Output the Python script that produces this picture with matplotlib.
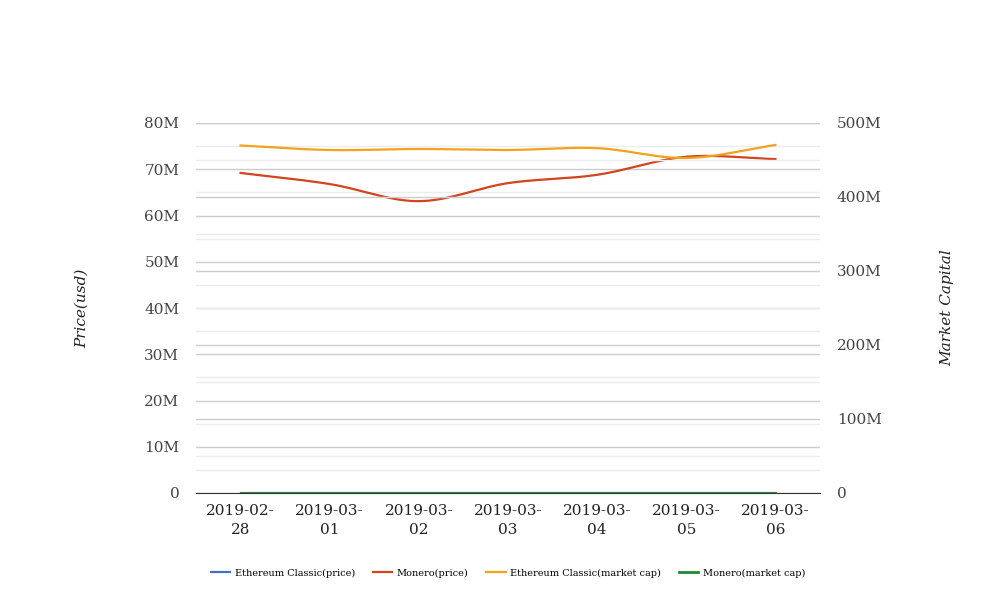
import numpy as np
from matplotlib import pyplot as plt
from matplotlib.ticker import FuncFormatter, MultipleLocator

dates = ['2019-02-\n28', '2019-03-\n01', '2019-03-\n02', '2019-03-\n03',
         '2019-03-\n04', '2019-03-\n05', '2019-03-\n06']
etc_price = [0.1e6, 0.1e6, 0.1e6, 0.1e6, 0.1e6, 0.1e6, 0.1e6]
monero_price = [69.2e6, 66.8e6, 63.1e6, 67.0e6, 68.8e6, 72.7e6, 72.2e6]
etc_cap = [469.6e6, 463.5e6, 464.9e6, 463.5e6, 466.0e6, 452.7e6, 470.3e6]
monero_cap = [0.5e6, 0.5e6, 0.5e6, 0.5e6, 0.5e6, 0.5e6, 0.5e6]

c_blue = '#4170c4'
c_red = '#d2441e'
c_orange = '#f4a11d'
c_green = '#1f8b2b'


def smooth(y, n=30):
    # cubic hermite just for a smooth drawn curve through the points
    y = np.asarray(y, dtype=float)
    x = np.arange(len(y))
    m = np.gradient(y)
    xs, ys = [], []
    for i in range(len(y) - 1):
        t = np.linspace(0, 1, n, endpoint=False)
        h00 = 2 * t**3 - 3 * t**2 + 1
        h10 = t**3 - 2 * t**2 + t
        h01 = -2 * t**3 + 3 * t**2
        h11 = t**3 - t**2
        xs.extend(x[i] + t)
        ys.extend(h00 * y[i] + h10 * m[i] + h01 * y[i + 1] + h11 * m[i + 1])
    xs.append(x[-1])
    ys.append(y[-1])
    return np.array(xs), np.array(ys)


def fmt_m(v, pos):
    if v == 0:
        return '0'
    return '{:d}M'.format(int(round(v / 1e6)))


plt.rcParams['font.family'] = 'DejaVu Serif'

fig = plt.figure(figsize=(10.08, 6.16), dpi=100)
ax = fig.add_axes([196 / 1008, 1 - 493 / 616, 624 / 1008, 370 / 616])
ax2 = ax.twinx()

ax.set_xlim(-0.5, 6.5)
ax.set_ylim(0, 80e6)
ax2.set_ylim(0, 500e6)

ax.yaxis.set_major_locator(MultipleLocator(10e6))
ax.yaxis.set_minor_locator(MultipleLocator(5e6))
ax2.yaxis.set_major_locator(MultipleLocator(100e6))
ax2.yaxis.set_minor_locator(MultipleLocator(50e6))
ax.yaxis.set_major_formatter(FuncFormatter(fmt_m))
ax2.yaxis.set_major_formatter(FuncFormatter(fmt_m))

for a in (ax, ax2):
    a.grid(True, axis='y', which='major', color='#cccccc', linewidth=1)
    a.grid(True, axis='y', which='minor', color='#ececec', linewidth=1)
    a.set_axisbelow(True)
    for s in a.spines.values():
        s.set_visible(False)
    a.tick_params(axis='y', which='both', length=0, labelsize=11, colors='#444444')
ax.tick_params(axis='y', pad=12)
ax2.tick_params(axis='y', pad=12)

ax.spines['bottom'].set_visible(True)
ax.spines['bottom'].set_color('#333333')
ax.set_xticks(range(len(dates)))
ax.set_xticklabels(dates, fontsize=11, color='#222222', linespacing=1.45)
ax.tick_params(axis='x', length=0, pad=8)

h1, = ax.plot(*smooth(etc_price), color=c_blue, linewidth=1.6, label='Ethereum Classic(price)')
h2, = ax.plot(*smooth(monero_price), color=c_red, linewidth=1.6, label='Monero(price)')
h3, = ax2.plot(*smooth(etc_cap), color=c_orange, linewidth=1.6, label='Ethereum Classic(market cap)')
h4, = ax2.plot(*smooth(monero_cap), color=c_green, linewidth=2, label='Monero(market cap)')

ax.set_ylabel('Price(usd)', fontsize=11, style='italic', color='#222222', labelpad=40)
ax2.set_ylabel('Market Capital', fontsize=11, style='italic', color='#222222', labelpad=42)

fig.legend(handles=[h1, h2, h3, h4], loc='center', bbox_to_anchor=(508 / 1008, 1 - 573 / 616),
           ncol=4, frameon=False, fontsize=7, handlelength=2, columnspacing=1.8,
           handletextpad=0.5)

plt.savefig('out.png', dpi=100)
